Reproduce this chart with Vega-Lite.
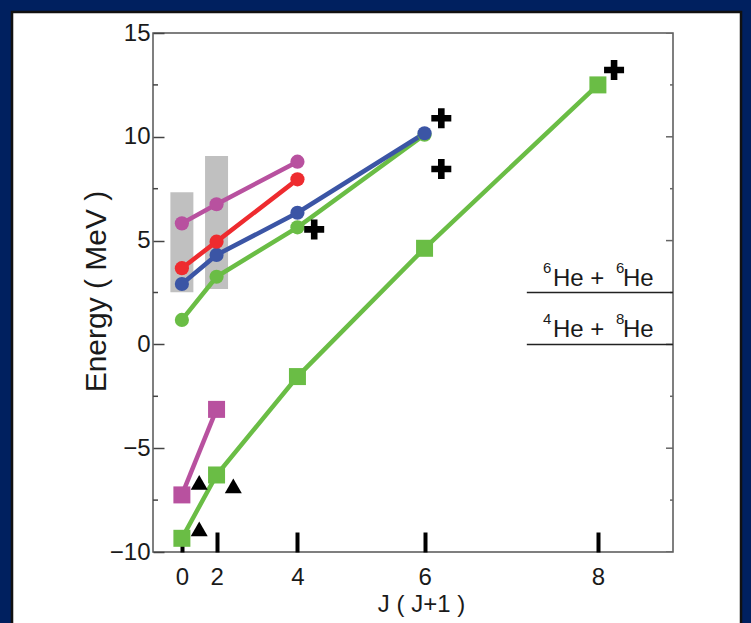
{
  "$schema": "https://vega.github.io/schema/vega-lite/v6.json",
  "width": 520,
  "height": 519,
  "autosize": {"type": "none"},
  "padding": {"left": 153, "top": 33, "right": 78, "bottom": 71},
  "background": "white",
  "config": {
    "font": "Liberation Sans",
    "view": {"stroke": "#555555", "strokeWidth": 1.5}
  },
  "datasets": {
    "levels": [
      {"series": "c1", "marker": "circle", "jj": 0, "e": 1.18},
      {"series": "c1", "marker": "circle", "jj": 6, "e": 3.26},
      {"series": "c1", "marker": "circle", "jj": 20, "e": 5.64},
      {"series": "c1", "marker": "circle", "jj": 42, "e": 10.1},
      {"series": "c2", "marker": "circle", "jj": 0, "e": 2.91},
      {"series": "c2", "marker": "circle", "jj": 6, "e": 4.31},
      {"series": "c2", "marker": "circle", "jj": 20, "e": 6.34},
      {"series": "c2", "marker": "circle", "jj": 42, "e": 10.17},
      {"series": "c3", "marker": "circle", "jj": 0, "e": 3.67},
      {"series": "c3", "marker": "circle", "jj": 6, "e": 4.95},
      {"series": "c3", "marker": "circle", "jj": 20, "e": 7.95},
      {"series": "c4", "marker": "circle", "jj": 0, "e": 5.83},
      {"series": "c4", "marker": "circle", "jj": 6, "e": 6.75},
      {"series": "c4", "marker": "circle", "jj": 20, "e": 8.8},
      {"series": "s1", "marker": "square", "jj": 0, "e": -9.34},
      {"series": "s1", "marker": "square", "jj": 6, "e": -6.29},
      {"series": "s1", "marker": "square", "jj": 20, "e": -1.55},
      {"series": "s1", "marker": "square", "jj": 42, "e": 4.63},
      {"series": "s1", "marker": "square", "jj": 72, "e": 12.5},
      {"series": "s2", "marker": "square", "jj": 0, "e": -7.25},
      {"series": "s2", "marker": "square", "jj": 6, "e": -3.13}
    ],
    "bands": [
      {"jj": 0, "lo": 2.51, "hi": 7.33},
      {"jj": 6, "lo": 2.67, "hi": 9.08}
    ],
    "triangles": [
      {"jj": 3, "e": -6.65},
      {"jj": 8.9, "e": -6.82},
      {"jj": 3, "e": -8.89}
    ],
    "crosses": [
      {"jj": 22.9, "e": 5.54},
      {"jj": 44.9, "e": 10.89},
      {"jj": 44.9, "e": 8.45},
      {"jj": 74.8, "e": 13.22}
    ],
    "thresholds": [
      {"a1": "6", "a2": "6", "e": 2.5},
      {"a1": "4", "a2": "8", "e": 0}
    ],
    "majorTicks": [{"e": -10}, {"e": -5}, {"e": 0}, {"e": 5}, {"e": 10}, {"e": 15}],
    "minorTicks": [{"e": -7.5}, {"e": -2.5}, {"e": 2.5}, {"e": 7.5}, {"e": 12.5}]
  },
  "resolve": {"axis": {"x": "independent", "y": "independent"}},
  "layer": [
    {
      "data": {"values": [{}]},
      "mark": {"type": "rect", "fillOpacity": 0, "stroke": "#00205f", "strokeWidth": 22},
      "encoding": {
        "x": {"datum": -31.48, "type": "quantitative", "axis": null},
        "x2": {"datum": 98.67},
        "y": {"datum": 16.59, "type": "quantitative", "axis": null},
        "y2": {"datum": -14.24}
      }
    },
    {
      "data": {"values": [{}]},
      "mark": {"type": "rect", "fillOpacity": 0, "stroke": "#111111", "strokeWidth": 2.5},
      "encoding": {
        "x": {"datum": -29.4, "type": "quantitative", "axis": null},
        "x2": {"datum": 96.77},
        "y": {"datum": 16.01, "type": "quantitative", "axis": null},
        "y2": {"datum": -14.24}
      }
    },
    {
      "data": {"name": "bands"},
      "mark": {"type": "bar", "color": "#c0c0c0", "size": 23},
      "encoding": {
        "x": {
          "field": "jj",
          "type": "quantitative",
          "scale": {"domain": [-5, 85], "nice": false, "zero": false, "padding": 0},
          "axis": {
            "orient": "bottom",
            "values": [0, 6, 20, 42, 72],
            "labelExpr": "format((sqrt(1 + 4 * datum.value) - 1) / 2, 'd')",
            "domain": false,
            "grid": false,
            "tickSize": -20,
            "tickWidth": 4,
            "tickCap": "butt",
            "tickColor": "#000000",
            "labelFontSize": 24,
            "labelColor": "#1a1a1a",
            "labelPadding": 33,
            "labelFlush": false,
            "title": "J ( J+1 )",
            "titleFontSize": 24,
            "titleFontWeight": "normal",
            "titleColor": "#1a1a1a",
            "titleBaseline": "alphabetic",
            "titleX": 268,
            "titleY": 59
          }
        },
        "y": {
          "field": "lo",
          "type": "quantitative",
          "scale": {"domain": [-10, 15], "nice": false, "zero": false, "padding": 0},
          "axis": {
            "orient": "left",
            "values": [-10, -5, 0, 5, 10, 15],
            "format": "d",
            "domain": false,
            "grid": false,
            "tickSize": -11,
            "tickWidth": 1.5,
            "tickColor": "#444444",
            "labelFontSize": 24,
            "labelColor": "#1a1a1a",
            "labelPadding": 14,
            "labelFlush": false,
            "title": "Energy ( MeV )",
            "titleFontSize": 30,
            "titleFontWeight": "normal",
            "titleColor": "#1a1a1a",
            "titleAngle": -90,
            "titleBaseline": "alphabetic",
            "titleX": -48,
            "titleY": 258
          }
        },
        "y2": {"field": "hi"}
      }
    },
    {
      "data": {"name": "minorTicks"},
      "mark": {"type": "tick", "orient": "horizontal", "size": 10, "thickness": 1.5, "color": "#444444", "clip": true, "opacity": 1},
      "encoding": {
        "x": {"datum": -5, "type": "quantitative", "axis": null},
        "y": {"field": "e", "type": "quantitative", "axis": null}
      }
    },
    {
      "data": {"name": "majorTicks"},
      "mark": {"type": "tick", "orient": "horizontal", "size": 14, "thickness": 1.5, "color": "#666666", "clip": true, "opacity": 1},
      "encoding": {
        "x": {"datum": 85, "type": "quantitative", "axis": null},
        "y": {"field": "e", "type": "quantitative", "axis": null}
      }
    },
    {
      "data": {"name": "minorTicks"},
      "mark": {"type": "tick", "orient": "horizontal", "size": 6, "thickness": 1.5, "color": "#666666", "clip": true, "opacity": 1},
      "encoding": {
        "x": {"datum": 85, "type": "quantitative", "axis": null},
        "y": {"field": "e", "type": "quantitative", "axis": null}
      }
    },
    {
      "data": {"name": "thresholds"},
      "mark": {"type": "rule", "color": "#222222", "strokeWidth": 1.5},
      "encoding": {
        "x": {"datum": 59.7, "type": "quantitative", "axis": null},
        "x2": {"datum": 85},
        "y": {"field": "e", "type": "quantitative", "axis": null}
      }
    },
    {
      "data": {"name": "thresholds"},
      "mark": {"type": "text", "fontSize": 15, "align": "left", "baseline": "alphabetic", "dx": 0, "dy": -20, "color": "#1a1a1a"},
      "encoding": {
        "x": {"datum": 62.5, "type": "quantitative", "axis": null},
        "y": {"field": "e", "type": "quantitative", "axis": null},
        "text": {"field": "a1"}
      }
    },
    {
      "data": {"name": "thresholds"},
      "mark": {"type": "text", "fontSize": 24, "align": "left", "baseline": "alphabetic", "dx": 10, "dy": -7, "color": "#1a1a1a"},
      "encoding": {
        "x": {"datum": 62.5, "type": "quantitative", "axis": null},
        "y": {"field": "e", "type": "quantitative", "axis": null},
        "text": {"value": "He +"}
      }
    },
    {
      "data": {"name": "thresholds"},
      "mark": {"type": "text", "fontSize": 15, "align": "left", "baseline": "alphabetic", "dx": 73, "dy": -20, "color": "#1a1a1a"},
      "encoding": {
        "x": {"datum": 62.5, "type": "quantitative", "axis": null},
        "y": {"field": "e", "type": "quantitative", "axis": null},
        "text": {"field": "a2"}
      }
    },
    {
      "data": {"name": "thresholds"},
      "mark": {"type": "text", "fontSize": 24, "align": "left", "baseline": "alphabetic", "dx": 80, "dy": -7, "color": "#1a1a1a"},
      "encoding": {
        "x": {"datum": 62.5, "type": "quantitative", "axis": null},
        "y": {"field": "e", "type": "quantitative", "axis": null},
        "text": {"value": "He"}
      }
    },
    {
      "data": {"name": "levels"},
      "mark": {"type": "line", "strokeWidth": 4.5},
      "encoding": {
        "x": {"field": "jj", "type": "quantitative", "axis": null},
        "y": {"field": "e", "type": "quantitative", "axis": null},
        "color": {
          "field": "series",
          "type": "nominal",
          "scale": {
            "domain": ["c1", "c2", "c3", "c4", "s1", "s2"],
            "range": ["#6abd45", "#3b55a5", "#ee2b2f", "#b8519f", "#6abd45", "#b8519f"]
          },
          "legend": null
        }
      }
    },
    {
      "data": {"name": "levels"},
      "transform": [{"filter": "datum.marker === 'circle'"}],
      "mark": {"type": "point", "shape": "circle", "filled": true, "size": 201, "opacity": 1},
      "encoding": {
        "x": {"field": "jj", "type": "quantitative", "axis": null},
        "y": {"field": "e", "type": "quantitative", "axis": null},
        "color": {"field": "series", "type": "nominal", "legend": null}
      }
    },
    {
      "data": {"name": "levels"},
      "transform": [{"filter": "datum.marker === 'square'"}],
      "mark": {"type": "point", "shape": "square", "filled": true, "size": 289, "opacity": 1},
      "encoding": {
        "x": {"field": "jj", "type": "quantitative", "axis": null},
        "y": {"field": "e", "type": "quantitative", "axis": null},
        "color": {"field": "series", "type": "nominal", "legend": null}
      }
    },
    {
      "data": {"name": "triangles"},
      "mark": {"type": "point", "shape": "triangle-up", "filled": true, "size": 289, "opacity": 1, "color": "#000000"},
      "encoding": {
        "x": {"field": "jj", "type": "quantitative", "axis": null},
        "y": {"field": "e", "type": "quantitative", "axis": null}
      }
    },
    {
      "data": {"name": "crosses"},
      "mark": {
        "type": "point",
        "shape": "M-1,-0.33H-0.33V-1H0.33V-0.33H1V0.33H0.33V1H-0.33V0.33H-1Z",
        "filled": true,
        "size": 400,
        "opacity": 1,
        "color": "#000000"
      },
      "encoding": {
        "x": {"field": "jj", "type": "quantitative", "axis": null},
        "y": {"field": "e", "type": "quantitative", "axis": null}
      }
    }
  ]
}
